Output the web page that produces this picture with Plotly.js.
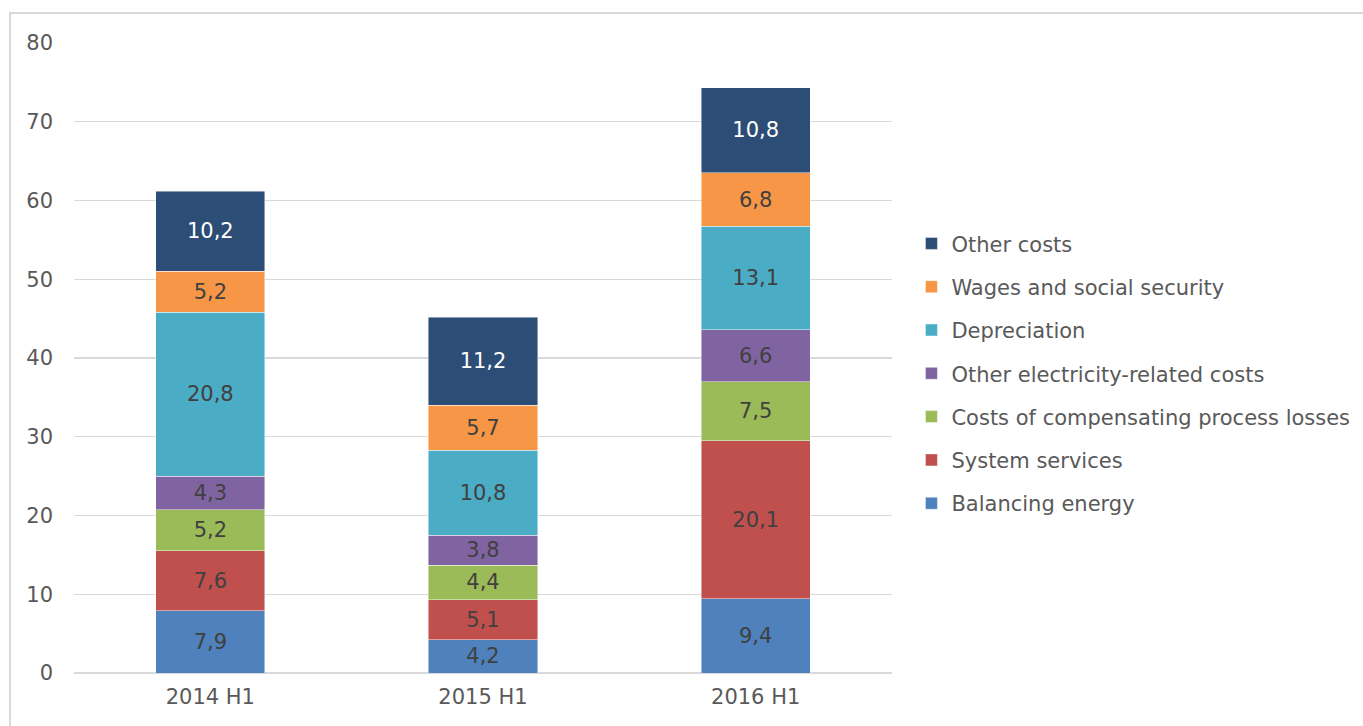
<!DOCTYPE html>
<html>
<head>
<meta charset="utf-8">
<script src="https://cdn.plot.ly/plotly-3.0.1.min.js"></script>
<style>
  html, body { margin: 0; padding: 0; background: #ffffff; overflow: hidden; }
  #chart { width: 1363px; height: 726px; position: absolute; left: 0; top: 0; }
  #frame { position: absolute; left: 9px; top: 12px; width: 1400px; height: 800px;
           border: 2px solid #d9d9d9; pointer-events: none; box-sizing: border-box; }
</style>
</head>
<body>
<div id="chart"></div>
<div id="frame"></div>
<script>
const categories = ["2014 H1", "2015 H1", "2016 H1"];

const balancingEnergy      = [7.9, 4.2, 9.4];
const systemServices       = [7.6, 5.1, 20.1];
const compensatingLosses   = [5.2, 4.4, 7.5];
const otherElectricity     = [4.3, 3.8, 6.6];
const depreciation         = [20.8, 10.8, 13.1];
const wagesSocialSecurity  = [5.2, 5.7, 6.8];
const otherCosts           = [10.2, 11.2, 10.8];

const seriesNames = [
  "Balancing energy",
  "System services",
  "Costs of compensating process losses",
  "Other electricity-related costs",
  "Depreciation",
  "Wages and social security",
  "Other costs"
];
const seriesValues = [balancingEnergy, systemServices, compensatingLosses, otherElectricity,
                      depreciation, wagesSocialSecurity, otherCosts];
const seriesColors = ["#4F81BD", "#C0504D", "#9BBB59", "#8064A2", "#4BACC6", "#F79646", "#2C4D75"];
const labelColors  = ["#404040", "#404040", "#404040", "#404040", "#404040", "#404040", "#ffffff"];

const FONT = "DejaVu Sans, Verdana, sans-serif";

const traces = seriesNames.map((name, i) => ({
  type: "bar",
  name: name,
  legendgroup: "g" + i,
  legendrank: seriesNames.length - i,
  x: categories,
  y: seriesValues[i],
  marker: { color: seriesColors[i], line: { color: "rgba(255,255,255,0.6)", width: 0.75 } },
  texttemplate: "%{y:.1f}",
  textposition: "inside",
  insidetextanchor: "middle",
  textangle: 0,
  textfont: { family: FONT, size: 21, color: labelColors[i] },
  hoverinfo: "skip"
}));

const layout = {
  width: 1363,
  height: 726,
  barmode: "stack",
  bargap: 0.6,
  separators: ", ",
  paper_bgcolor: "#ffffff",
  plot_bgcolor: "#ffffff",
  font: { family: FONT, size: 21, color: "#595959" },
  margin: { l: 74, r: 471, t: 43, b: 52.5, autoexpand: false },
  showlegend: true,
  legend: {
    xref: "container",
    x: 0.6687, xanchor: "left",
    y: 0.475, yanchor: "middle",
    traceorder: "grouped",
    tracegroupgap: 13,
    font: { family: FONT, size: 21, color: "#595959" },
    itemclick: false, itemdoubleclick: false
  },
  xaxis: {
    type: "category",
    showgrid: false,
    showline: false,
    zeroline: false,
    ticks: "",
    ticklabelstandoff: 9,
    tickfont: { family: FONT, size: 21, color: "#595959" }
  },
  yaxis: {
    range: [0, 80],
    dtick: 10,
    showgrid: true,
    gridcolor: "#d9d9d9",
    gridwidth: 1.3,
    zeroline: true,
    zerolinecolor: "#d9d9d9",
    zerolinewidth: 1.3,
    showline: false,
    ticks: "",
    ticklabelstandoff: 20,
    tickfont: { family: FONT, size: 21, color: "#595959" }
  },
  hovermode: false
};

Plotly.newPlot("chart", traces, layout, { displayModeBar: false, staticPlot: true });
</script>
</body>
</html>
